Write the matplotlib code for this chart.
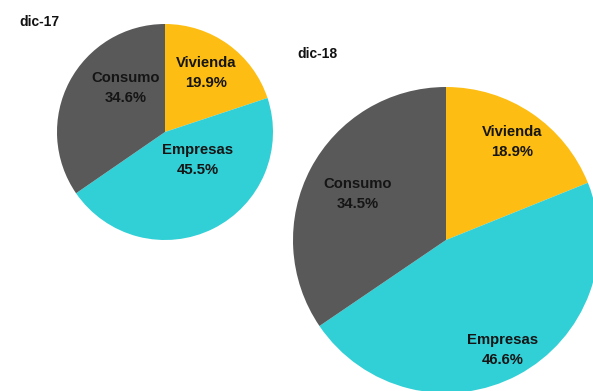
import matplotlib
matplotlib.use("Agg")
import matplotlib.pyplot as plt

categories = ["Vivienda", "Empresas", "Consumo"]
shares_dic17 = [19.9, 45.5, 34.6]
shares_dic18 = [18.9, 46.6, 34.5]
titles = ["dic-17", "dic-18"]

colors = ["#FDBD12", "#31CFD6", "#595959"]
W, H = 593, 391

plt.rcParams["font.family"] = ["Liberation Sans", "DejaVu Sans"]
fig = plt.figure(figsize=(W / 100, H / 100), dpi=100)
fig.patch.set_facecolor("white")


def pie_axes(cx, cy, r):
    # pixel centre / radius -> figure-fraction axes box
    return fig.add_axes([(cx - r) / W, (H - cy - r) / H, 2 * r / W, 2 * r / H])


def draw(ax, values, label_pos):
    ax.pie(values, colors=colors, startangle=90, counterclock=False,
           radius=1.0, wedgeprops=dict(linewidth=0))
    ax.set_xlim(-1, 1)
    ax.set_ylim(-1, 1)
    ax.set_aspect("equal")
    ax.axis("off")
    for name, val, (x, y) in zip(categories, values, label_pos):
        ax.text(x, y, f"{name}\n{val:.1f}%", ha="center", va="center",
                fontsize=10.7, fontweight="bold", color="#151515",
                linespacing=1.55)


ax1 = pie_axes(165, 132, 108)
draw(ax1, shares_dic17, [(0.38, 0.55), (0.30, -0.255), (-0.36, 0.41)])

ax2 = pie_axes(446, 240, 153)
draw(ax2, shares_dic18, [(0.43, 0.64), (0.37, -0.72), (-0.58, 0.30)])

fig.text(39 / W, 1 - 22 / H, titles[0], ha="center", va="center",
         fontsize=10, fontweight="bold", color="#111111")
fig.text(317 / W, 1 - 54 / H, titles[1], ha="center", va="center",
         fontsize=10, fontweight="bold", color="#111111")

fig.savefig("out.png", dpi=100)
